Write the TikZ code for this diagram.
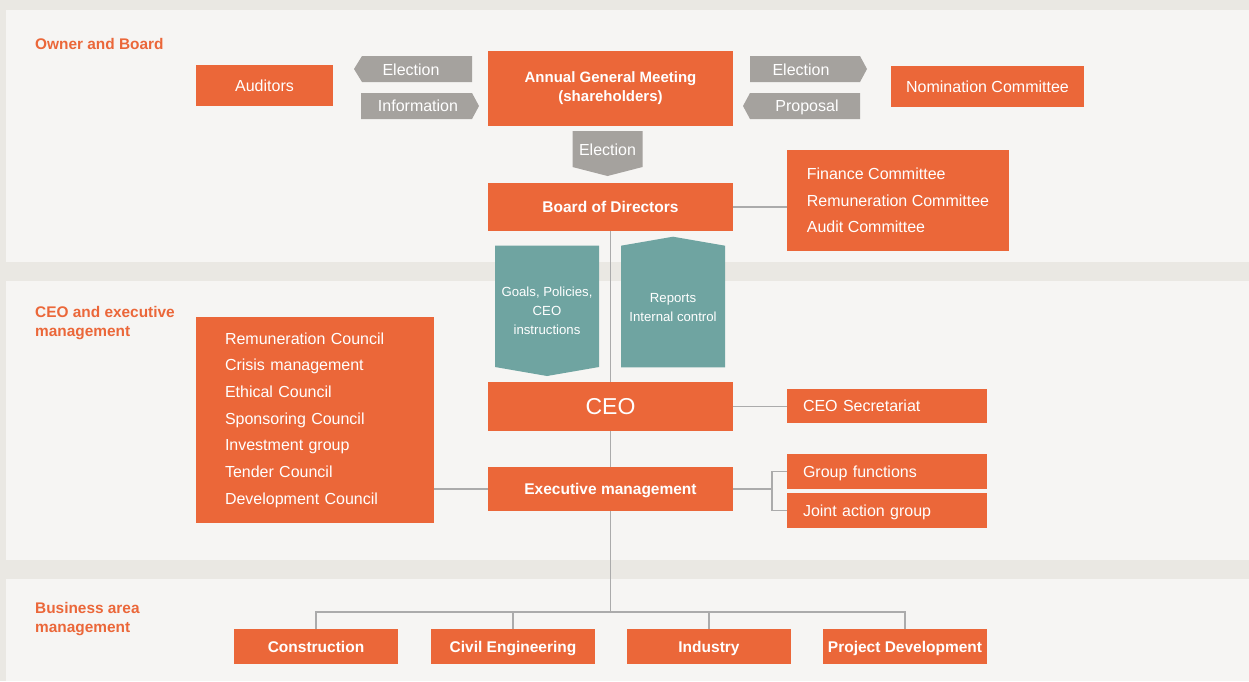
\documentclass[tikz,border=0pt]{standalone}
\usepackage{fontspec}
\setmainfont{Liberation Sans}
\definecolor{pagebg}{HTML}{EAE8E3}
\definecolor{panelbg}{HTML}{F6F5F3}
\definecolor{brand}{HTML}{EB6739}
\definecolor{flowgray}{HTML}{A5A29E}
\definecolor{teal}{HTML}{6FA4A1}
\definecolor{linkgray}{HTML}{ABABAB}
\newcommand\pxfont[2]{\fontsize{#1}{#2}\selectfont}
\tikzset{
  box/.style={fill=brand, text=white, inner sep=0pt, font=\pxfont{16}{19}},
  oneline/.style={text height=11.5pt, text depth=0pt},
  boldbox/.style={box, font=\pxfont{15.5}{19.5}\bfseries},
  listbox/.style={box, align=left, font=\pxfont{16}{26.7}},
  sidebox/.style={box, oneline, minimum width=200pt, text width=168pt, inner xsep=16pt, align=left},
  unitbox/.style={boldbox, oneline, minimum width=164pt, minimum height=35pt},
  flowtext/.style={text=white, inner sep=0pt, oneline, font=\pxfont{16}{19}},
  tealtext/.style={text=white, inner sep=0pt, align=center, font=\pxfont{13.2}{19}},
  tierlabel/.style={text=brand, inner sep=0pt, align=left, anchor=north west, font=\pxfont{15.4}{19.2}\bfseries},
  link/.style={draw=linkgray, line width=1.3pt}
}
\begin{document}
\begin{tikzpicture}[x=1pt, y=-1pt]
% page and the three tier panels
\fill[pagebg] (0,0) rectangle (1249,681);
\useasboundingbox (0,0) rectangle (1249,681);
\fill[panelbg] (6,10) rectangle (1249,262);
\fill[panelbg] (6,281) rectangle (1249,560);
\fill[panelbg] (6,579) rectangle (1249,681);

% tier labels
\node[tierlabel] (lblowner) at (35,38) {Owner and Board};
\node[tierlabel] (lblceo) at (35,305.8) {CEO and executive\\management};
\node[tierlabel] (lblbiz) at (35,601.8) {Business area\\management};

% owner and board
\node[boldbox, minimum width=245pt, minimum height=75pt, align=center, font=\pxfont{15}{19.5}\bfseries] (agm) at (610.5,88) {Annual General Meeting\\(shareholders)};
\node[box, oneline, minimum width=137pt, minimum height=41pt] (aud) at (264.5,85.5) {Auditors};
\node[box, oneline, minimum width=193pt, minimum height=41pt] (nom) at (987.5,86.5) {Nomination Committee};
\node[boldbox, oneline, minimum width=245pt, minimum height=48pt] (board) at (610.5,207) {Board of Directors};
\node[listbox, minimum width=222pt, minimum height=101pt, inner xsep=20pt] (cmte) at (898,200.5)
  {Finance Committee\\Remuneration Committee\\Audit Committee};

% flow tags between the meeting and its neighbours
\fill[flowgray] (354,69) -- (362,56) -- (472,56) -- (472,82) -- (362,82) -- cycle;
\node[flowtext] (tagelecl) at (411,70) {Election};
\fill[flowgray] (361,93) -- (472,93) -- (479,106) -- (472,119) -- (361,119) -- cycle;
\node[flowtext] (taginfo) at (418,106) {Information};
\fill[flowgray] (750,56) -- (860,56) -- (867,69) -- (860,82) -- (750,82) -- cycle;
\node[flowtext] (tagelecr) at (801,70) {Election};
\fill[flowgray] (743,106) -- (750,93) -- (860,93) -- (860,119) -- (750,119) -- cycle;
\node[flowtext] (tagprop) at (807,106) {Proposal};
\fill[flowgray] (572.5,131) -- (642.5,131) -- (642.5,167) -- (607.5,176) -- (572.5,167) -- cycle;
\node[flowtext] (tagelecd) at (607.5,149.5) {Election};

% CEO and executive management
\node[box, minimum width=245pt, minimum height=49pt, font=\pxfont{23}{26}, text height=16.5pt, text depth=0pt] (ceo) at (610.5,406.5) {CEO};
\node[sidebox, minimum height=34pt] (sec) at (887,406) {CEO Secretariat};
\node[boldbox, oneline, minimum width=245pt, minimum height=44pt] (exec) at (610.5,489) {Executive management};
\node[sidebox, minimum height=35pt] (grp) at (887,471.5) {Group functions};
\node[sidebox, minimum height=35pt] (jnt) at (887,510.5) {Joint action group};
\node[listbox, minimum width=238pt, minimum height=206pt, text width=180pt, inner xsep=29pt] (cncl) at (315,420)
  {Remuneration Council\\Crisis management\\Ethical Council\\Sponsoring Council\\Investment group\\Tender Council\\Development Council};

% business areas
\node[unitbox] (con) at (316,646.5) {Construction};
\node[unitbox] (civ) at (513,646.5) {Civil Engineering};
\node[unitbox] (ind) at (709,646.5) {Industry};
\node[unitbox] (pd) at (905,646.5) {Project Development};

% connectors
\coordinate (brk) at (772,489);
\coordinate (bus) at (610.5,612);
\draw[link] (board.south) -- (ceo.north);
\draw[link] (board.east) -- (board.east -| cmte.west);
\draw[link] (ceo.east) -- (ceo.east -| sec.west);
\draw[link] (ceo.south) -- (exec.north);
\draw[link] (exec.west) -- (exec.west -| cncl.east);
\draw[link] (exec.east) -- (brk);
\draw[link] (grp.west) -| (brk) |- (jnt.west);
\draw[link] (exec.south) -- (bus);
\draw[link] (con.north) |- (bus) -| (pd.north);
\draw[link] (civ.north) -- (civ.north |- bus);
\draw[link] (ind.north) -- (ind.north |- bus);

% mandate and reporting tags between board and CEO
\fill[teal] (495,245.7) -- (599,245.7) -- (599,367) -- (547,376) -- (495,367) -- cycle;
\node[tealtext] (tagdown) at (547,310.5) {Goals, Policies,\\CEO\\instructions};
\fill[teal] (621,245.7) -- (673,236.7) -- (725,245.7) -- (725,367.3) -- (621,367.3) -- cycle;
\node[tealtext] (tagup) at (673,308) {Reports\\Internal control};
\end{tikzpicture}
\end{document}
